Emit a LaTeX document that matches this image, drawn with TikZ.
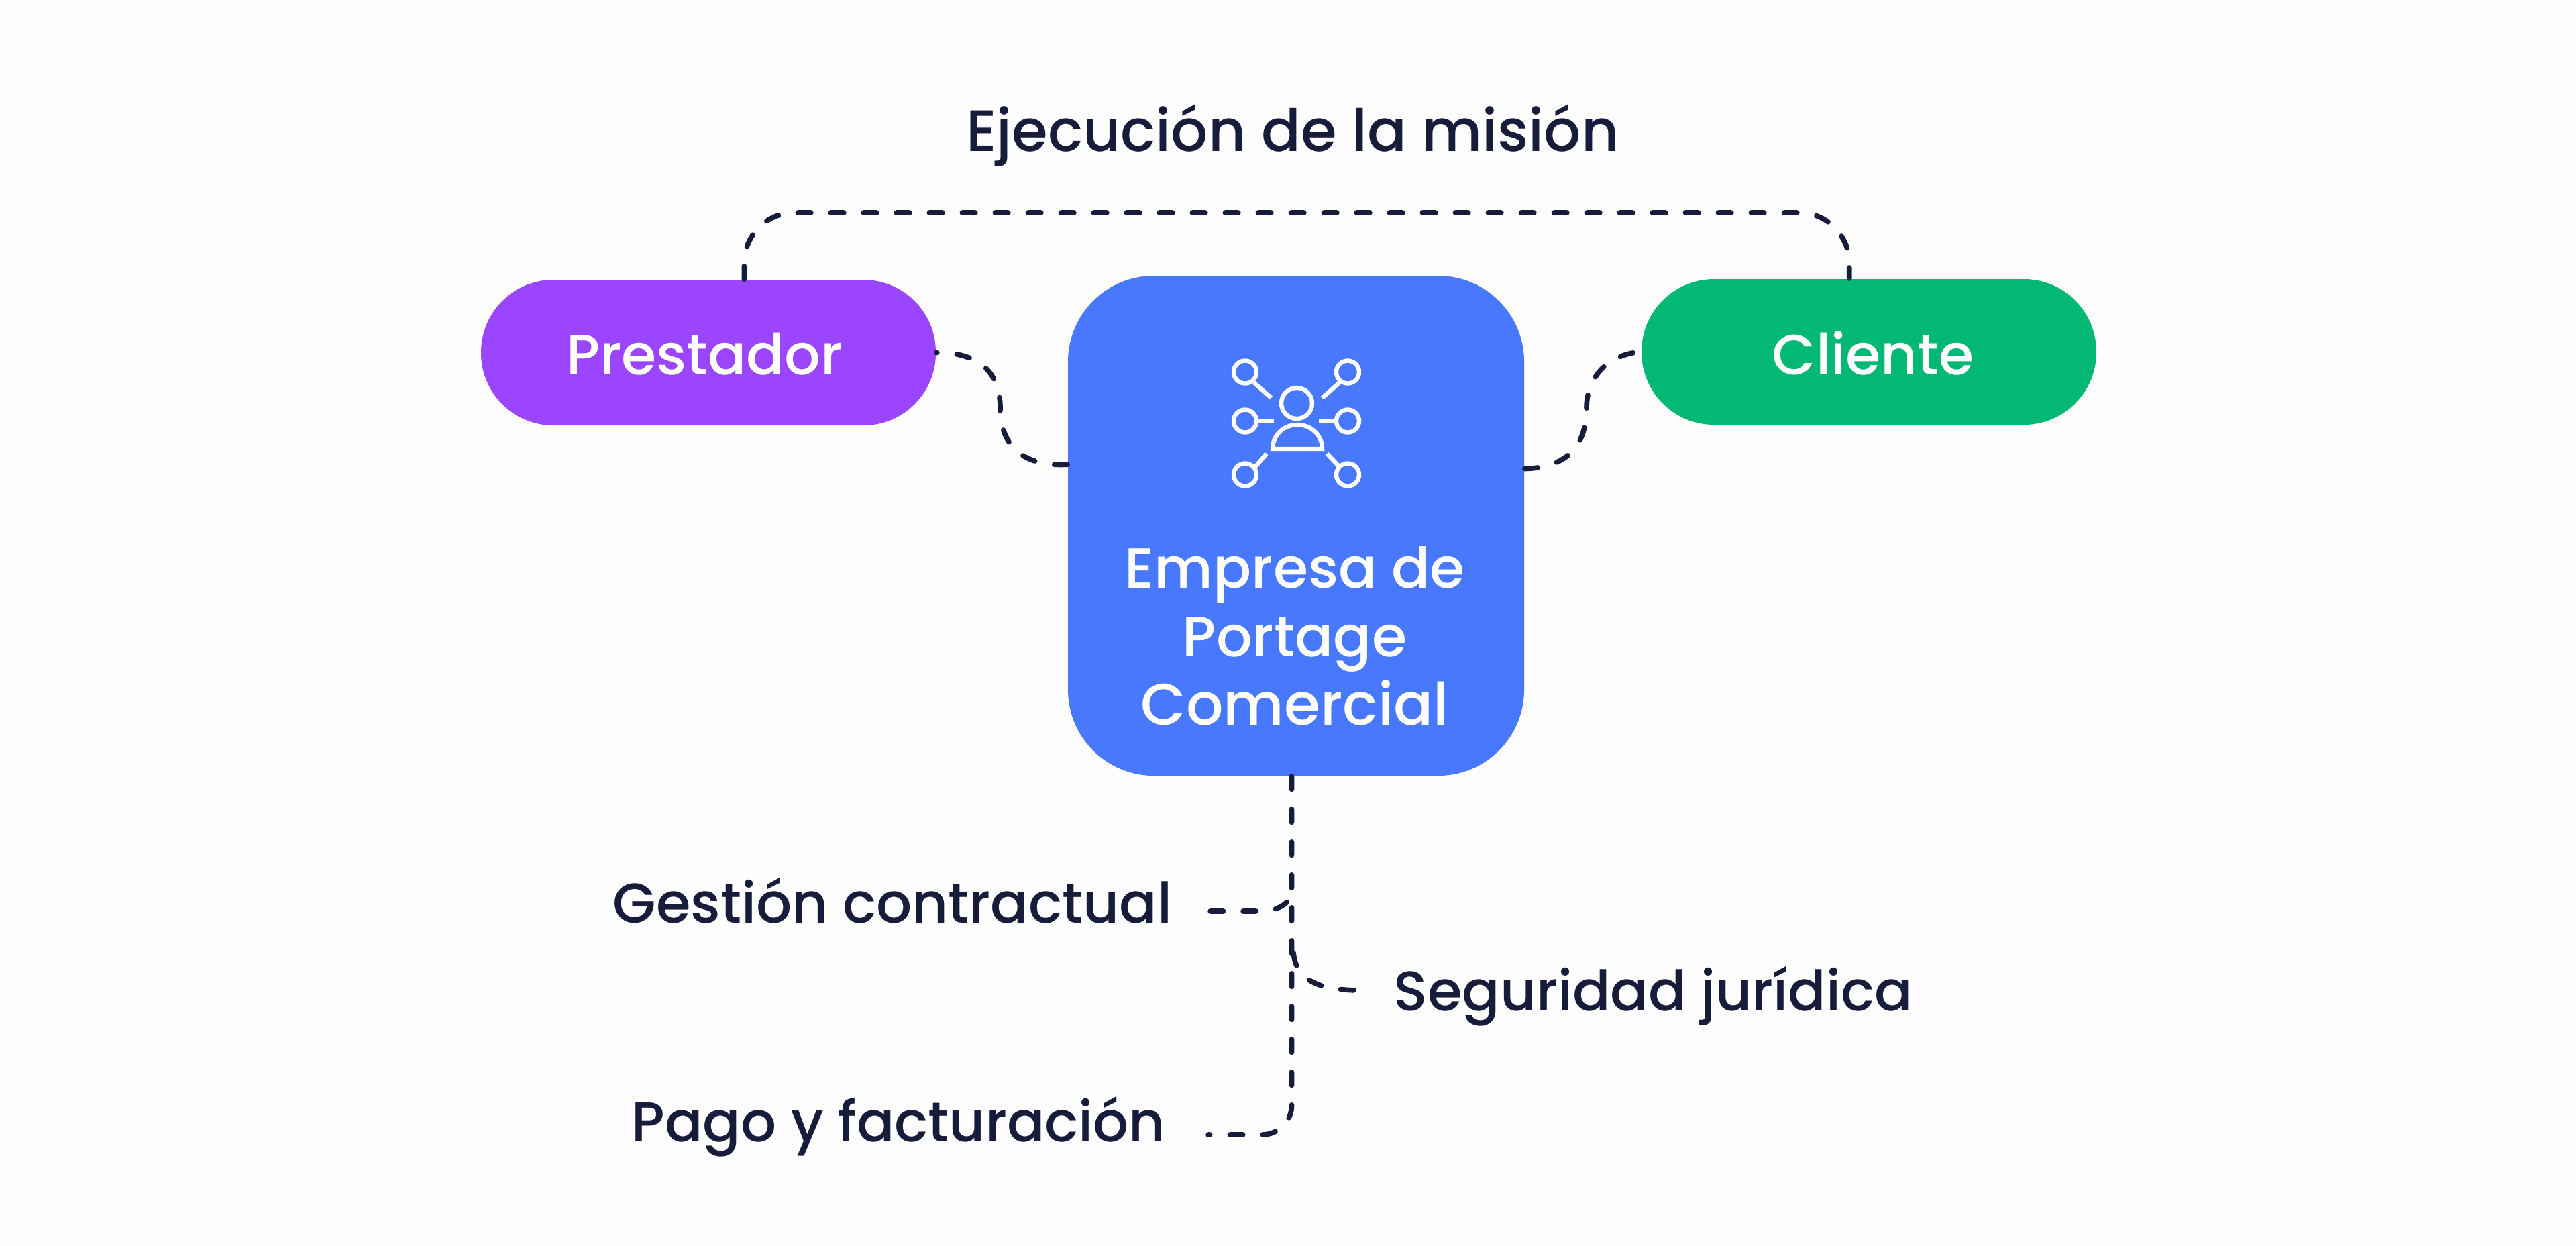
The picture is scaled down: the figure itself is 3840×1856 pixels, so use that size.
\documentclass[tikz,border=0pt]{standalone}
\usepackage{fontspec}
\usepackage{tikz}
\setmainfont{Poppins Medium}
\definecolor{inkdark}{HTML}{171C3A}
\definecolor{bluebox}{HTML}{4878FB}
\definecolor{purplebox}{HTML}{9B45FF}
\definecolor{greenbox}{HTML}{03B875}
\definecolor{paper}{HTML}{FDFDFD}
\tikzset{
  pill/.style={rounded corners=27pt,minimum width=169.5pt,minimum height=54.25pt,inner sep=0pt},
  dashline/.style={color=inkdark,line width=1.9pt,line cap=round,dash pattern=on 4.9pt off 7.35pt},
  iconline/.style={color=white,line width=1.6pt},
  labeltext/.style={text=inkdark,inner sep=0pt,font=\fontsize{20.85}{24}\selectfont},
  boxtext/.style={text=white,inner sep=0pt,font=\fontsize{21.1}{24}\selectfont}
}
\begin{document}
\begin{tikzpicture}[x=0.25pt,y=0.25pt,yscale=-1,xscale=1]
%set diagram to the size of the page
\fill [paper] (0,0) rectangle (3840,1856);
\useasboundingbox (0,0) rectangle (3840,1856);

%Boxes
\node (prestador) [pill,fill=purplebox] at (1056,525.5) {};
\node (cliente) [pill,fill=greenbox] at (2786,524.5) {};
\node (empresa) [fill=bluebox,rounded corners=32pt,minimum width=170pt,minimum height=186.25pt,inner sep=0pt] at (1932,783.5) {};

% Text Node
\draw (1050,558) node (prestadortxt) [anchor=base,boxtext] {Prestador};
% Text Node
\draw (2792,558) node (clientetxt) [anchor=base,boxtext] {Cliente};
% Text Node
\draw (1930,876) node (empresaa) [anchor=base,boxtext] {Empresa de};
% Text Node
\draw (1930,978) node (empresab) [anchor=base,boxtext] {Portage};
% Text Node
\draw (1930,1080) node (empresac) [anchor=base,boxtext,font=\fontsize{21.8}{24}\selectfont] {Comercial};
% Text Node
\draw (1927,225) node (mision) [anchor=base,labeltext,font=\fontsize{21.7}{24}\selectfont] {Ejecución de la misión};
% Text Node
\draw (913,1375) node (gestion) [anchor=base west,labeltext] {Gestión contractual};
% Text Node
\draw (2077,1506) node (seguridad) [anchor=base west,labeltext] {Seguridad jurídica};
% Text Node
\draw (941,1701) node (pago) [anchor=base west,labeltext] {Pago y facturación};

%Free ends of the connectors
\coordinate (topbar) at (1932,317);
\coordinate (gestionend) at (1804,1358);
\coordinate (seguridadend) at (2030,1476);
\coordinate (pagoend) at (1801,1691);
\coordinate (spinea) at (1928,1322);
\coordinate (spineb) at (1928,1420);

%Curve Lines
\draw [dashline,rounded corners=18.75pt] (prestador.64) |- (topbar) -| (cliente.105);
\draw [dashline] (empresa.165.6) .. controls (1520,696) and (1491,660) .. (1491,608) .. controls (1491,560) and (1465,525) .. (prestador.east);
\draw [dashline] (empresa.14.4) .. controls (2340,697) and (2365,660) .. (2365,608) .. controls (2365,560) and (2400,527) .. (cliente.west);
\draw [dashline,rounded corners=11pt] (empresa.269.4) |- (pagoend);
\draw [dashline] (gestionend) -- (1880,1358) .. controls (1905,1358) and (1928,1345) .. (spinea);
\draw [dashline] (spineb) .. controls (1932,1455) and (1955,1476) .. (seguridadend);

%Shape: Circle
\draw [iconline] (1856,554.5) circle [radius=17];
\draw [iconline] (2009,554.5) circle [radius=17];
\draw [iconline] (1856,627.5) circle [radius=17];
\draw [iconline] (2009,627.5) circle [radius=17];
\draw [iconline] (1856,707.5) circle [radius=17];
\draw [iconline] (2009,707.5) circle [radius=17];
\draw [iconline] (1933,601) circle [radius=23];
%Curve Lines
\draw [iconline] (1897,669) .. controls (1897,648) and (1914,633) .. (1934,633) .. controls (1954,633) and (1971,648) .. (1971,669) -- cycle;
%Straight Lines
\draw [iconline] (1869,570) -- (1895,593);
\draw [iconline] (1997,570) -- (1971,593);
\draw [iconline] (1873,627.5) -- (1899,627.5);
\draw [iconline] (1966,627.5) -- (1992,627.5);
\draw [iconline] (1871,696) -- (1888,676);
\draw [iconline] (1978,676) -- (1997,696);

\end{tikzpicture}
\end{document}
